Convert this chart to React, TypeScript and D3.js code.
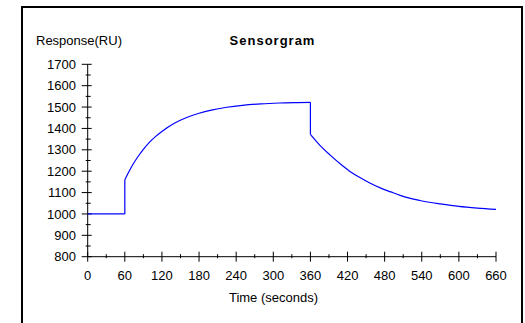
import React from "react";
import * as d3 from "d3";

const baseTimes = [0, 60];
const baseResponse = [1000, 1000];
const assocTimes = [60, 67, 74, 82, 90, 100, 110, 120, 140, 160, 180, 200, 225, 250, 280, 310, 340, 360];
const assocResponse = [1160, 1200, 1236, 1271, 1302, 1336, 1363, 1386, 1424, 1451, 1471, 1486, 1499, 1508, 1515, 1519, 1521, 1522];
const dissocTimes = [360, 375, 392, 410, 424, 440, 456, 472, 490, 505, 520, 537, 570, 600, 630, 660];
const dissocResponse = [1372, 1322, 1275, 1230, 1199, 1170, 1145, 1123, 1103, 1087, 1074, 1063, 1047, 1035, 1027, 1021];
const xTicks = [0, 60, 120, 180, 240, 300, 360, 420, 480, 540, 600, 660];
const yTicks = [800, 900, 1000, 1100, 1200, 1300, 1400, 1500, 1600, 1700];
const xMinor = [30, 90, 150, 210, 270, 330, 390, 450, 510, 570, 630];
const yMinor = [850, 950, 1050, 1150, 1250, 1350, 1450, 1550, 1650];
const title = "Sensorgram";
const yLabel = "Response(RU)";
const xLabel = "Time (seconds)";

export default function App() {
  const x = d3.scaleLinear().domain([0, 660]).range([87.7, 496]);
  const y = d3.scaleLinear().domain([800, 1700]).range([256.7, 64.3]);
  const zip = (ts: number[], rs: number[]) => ts.map((t, i) => [t, rs[i]] as [number, number]);
  const smooth = d3.line<[number, number]>().x(d => x(d[0])).y(d => y(d[1])).curve(d3.curveMonotoneX);
  const straight = d3.line<[number, number]>().x(d => x(d[0])).y(d => y(d[1]));
  const base = zip(baseTimes, baseResponse);
  const assoc = zip(assocTimes, assocResponse);
  const dissoc = zip(dissocTimes, dissocResponse);
  const jump1 = [base[base.length - 1], assoc[0]];
  const jump2 = [assoc[assoc.length - 1], dissoc[0]];
  const font = "'Liberation Sans', Arial, sans-serif";
  const x0 = x(0);
  const yb = y(800);
  const blue = "#0000ff";
  return (
    <svg width={525} height={323} style={{ position: "absolute", left: 0, top: 0 }} fontFamily={font}>
      <rect x={0} y={0} width={525} height={323} fill="#fff" />
      <rect x={22} y={7} width={500} height={330} fill="none" stroke="#000" strokeWidth={2} />
      <text x={272.5} y={45} textAnchor="middle" fontSize={13} fontWeight="bold" letterSpacing={1}>{title}</text>
      <text x={36} y={45.3} fontSize={13}>{yLabel}</text>
      <text x={273.5} y={302.3} textAnchor="middle" fontSize={13}>{xLabel}</text>
      <g stroke="#000" strokeWidth={1}>
        <line x1={x0} x2={x0} y1={y(1700)} y2={yb} />
        <line x1={x0} x2={x(660)} y1={yb} y2={yb} />
        {yTicks.map(v => <line key={"yt" + v} x1={x0 - 6} x2={x0 + 4} y1={y(v)} y2={y(v)} />)}
        {yMinor.map(v => <line key={"ym" + v} x1={x0 - 2} x2={x0 + 3} y1={y(v)} y2={y(v)} />)}
        {xTicks.map(v => <line key={"xt" + v} x1={x(v)} x2={x(v)} y1={yb - 5} y2={yb + 5} />)}
        {xMinor.map(v => <line key={"xm" + v} x1={x(v)} x2={x(v)} y1={yb - 2.5} y2={yb + 1.5} />)}
      </g>
      {yTicks.map(v => (
        <text key={"yl" + v} x={76} y={y(v) + 4.6} textAnchor="end" fontSize={13}>{v}</text>
      ))}
      {xTicks.map(v => (
        <text key={"xl" + v} x={x(v)} y={280.3} textAnchor="middle" fontSize={13}>{v}</text>
      ))}
      <g fill="none" stroke={blue} strokeWidth={1.2}>
        <path d={straight(base) || ""} />
        <path d={straight(jump1 as [number, number][]) || ""} />
        <path d={smooth(assoc) || ""} />
        <path d={straight(jump2 as [number, number][]) || ""} />
        <path d={smooth(dissoc) || ""} />
      </g>
    </svg>
  );
}
